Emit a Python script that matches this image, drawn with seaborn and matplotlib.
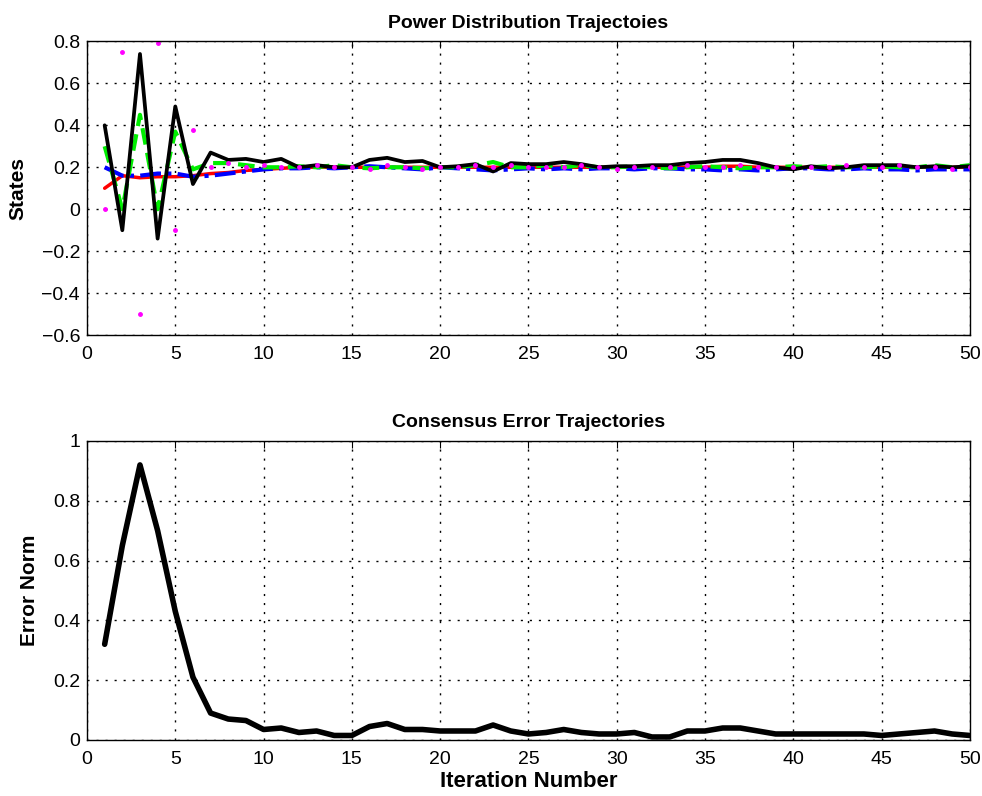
import numpy as np
import pandas as pd
import matplotlib
matplotlib.use("Agg")
import matplotlib.pyplot as plt
import seaborn as sns

iters = list(range(1, 51))

# agent states
state_black = [0.40, -0.10, 0.74, -0.14, 0.49, 0.12, 0.27, 0.235, 0.24, 0.225,
               0.24, 0.20, 0.21, 0.20, 0.20, 0.235, 0.245, 0.225, 0.23, 0.20,
               0.205, 0.215, 0.18, 0.22, 0.215, 0.215, 0.225, 0.215, 0.20, 0.205,
               0.205, 0.21, 0.21, 0.22, 0.225, 0.235, 0.235, 0.22, 0.20, 0.19,
               0.205, 0.195, 0.20, 0.21, 0.21, 0.21, 0.20, 0.205, 0.20, 0.205]
state_green = [0.30, 0.00, 0.45, 0.00, 0.37, 0.19, 0.22, 0.22, 0.21, 0.20,
               0.20, 0.205, 0.20, 0.21, 0.20, 0.195, 0.20, 0.20, 0.195, 0.20,
               0.20, 0.21, 0.225, 0.20, 0.20, 0.21, 0.20, 0.21, 0.20, 0.20,
               0.205, 0.20, 0.195, 0.20, 0.205, 0.20, 0.195, 0.20, 0.20, 0.205,
               0.20, 0.205, 0.20, 0.20, 0.205, 0.20, 0.20, 0.21, 0.20, 0.21]
state_blue = [0.20, 0.16, 0.16, 0.17, 0.17, 0.155, 0.16, 0.17, 0.18, 0.19,
              0.195, 0.195, 0.20, 0.195, 0.20, 0.205, 0.20, 0.195, 0.19, 0.20,
              0.195, 0.19, 0.185, 0.19, 0.195, 0.19, 0.195, 0.19, 0.195, 0.195,
              0.19, 0.195, 0.195, 0.19, 0.19, 0.185, 0.19, 0.185, 0.19, 0.195,
              0.195, 0.19, 0.19, 0.195, 0.19, 0.19, 0.185, 0.19, 0.19, 0.19]
state_red = [0.10, 0.16, 0.15, 0.155, 0.155, 0.16, 0.17, 0.175, 0.185, 0.19,
             0.195, 0.20, 0.20, 0.20, 0.20, 0.20, 0.20, 0.20, 0.20, 0.20,
             0.20, 0.20, 0.20, 0.20, 0.20, 0.20, 0.20, 0.20, 0.20, 0.20,
             0.20, 0.20, 0.20, 0.20, 0.20, 0.205, 0.205, 0.20, 0.20, 0.20,
             0.20, 0.20, 0.20, 0.20, 0.20, 0.20, 0.20, 0.20, 0.20, 0.20]
state_magenta = [0.00, 0.75, -0.50, 0.79, -0.10, 0.38, 0.20, 0.22, 0.20, 0.21,
                 0.20, 0.20, 0.21, 0.20, 0.20, 0.19, 0.21, 0.20, 0.19, 0.20,
                 0.20, 0.21, 0.20, 0.21, 0.20, 0.20, 0.20, 0.21, 0.20, 0.19,
                 0.20, 0.20, 0.20, 0.21, 0.20, 0.20, 0.21, 0.20, 0.20, 0.20,
                 0.20, 0.20, 0.21, 0.20, 0.20, 0.21, 0.20, 0.20, 0.19, 0.20]

# consensus error norm (bottom panel)
error_norm = [0.32, 0.65, 0.92, 0.70, 0.43, 0.21, 0.09, 0.07, 0.065, 0.035,
              0.04, 0.025, 0.03, 0.015, 0.015, 0.045, 0.055, 0.035, 0.035, 0.03,
              0.03, 0.03, 0.05, 0.03, 0.02, 0.025, 0.035, 0.025, 0.02, 0.02,
              0.025, 0.01, 0.01, 0.03, 0.03, 0.04, 0.04, 0.03, 0.02, 0.02,
              0.02, 0.02, 0.02, 0.02, 0.015, 0.02, 0.025, 0.03, 0.02, 0.015]

states_ticks = ['\u22120.6', '\u22120.4', '\u22120.2', '0', '0.2', '0.4', '0.6', '0.8']
error_ticks = ['0', '0.2', '0.4', '0.6', '0.8', '1']

sns.set_style("white")
plt.rcParams['font.family'] = ['Liberation Sans', 'DejaVu Sans']
plt.rcParams['xtick.direction'] = 'in'
plt.rcParams['ytick.direction'] = 'in'
plt.rcParams['text.color'] = 'black'
plt.rcParams['axes.labelcolor'] = 'black'
plt.rcParams['xtick.labelcolor'] = 'black'
plt.rcParams['ytick.labelcolor'] = 'black'

fig = plt.figure(figsize=(9.82, 7.96), dpi=100)
ax1 = fig.add_axes([0.0886, 0.579, 0.899, 0.369])
ax2 = fig.add_axes([0.0886, 0.0704, 0.899, 0.3756])

df = pd.DataFrame({'iter': iters, 'black': state_black, 'green': state_green,
                   'blue': state_blue, 'red': state_red, 'magenta': state_magenta,
                   'err': error_norm})

sns.lineplot(data=df, x='iter', y='red', ax=ax1, color='red', lw=2.5)
sns.lineplot(data=df, x='iter', y='blue', ax=ax1, color='blue', lw=3,
             linestyle=(0, (5, 1.5, 1, 1.5)))
sns.lineplot(data=df, x='iter', y='green', ax=ax1, color='#00ee00', lw=3,
             linestyle=(0, (4, 2)))
sns.lineplot(data=df, x='iter', y='black', ax=ax1, color='black', lw=2.7)
ax1.plot(df['iter'], df['magenta'], linestyle='none', marker='.',
         markersize=5, color='magenta')

sns.lineplot(data=df, x='iter', y='err', ax=ax2, color='black', lw=4)

tfont = dict(fontsize=14, fontweight='bold')
ax1.set_title('Power Distribution Trajectoies', pad=10, **tfont)
ax1.set_xlabel('')
ax1.set_ylabel('States', labelpad=10, fontsize=15, fontweight='bold')
ax1.set_xlim(0, 50)
ax1.set_ylim(-0.6, 0.8)
ax1.set_yticks(np.arange(-0.6, 0.81, 0.2))
ax1.set_yticklabels(states_ticks)

ax2.set_title('Consensus Error Trajectories', pad=10, **tfont)
ax2.set_xlabel('Iteration Number', labelpad=2, fontsize=16, fontweight='bold')
ax2.set_ylabel('Error Norm', labelpad=10, fontsize=15, fontweight='bold')
ax2.set_xlim(0, 50)
ax2.set_ylim(0, 1)
ax2.set_yticks([0, 0.2, 0.4, 0.6, 0.8, 1])
ax2.set_yticklabels(error_ticks)

for ax in (ax1, ax2):
    ax.set_xticks(range(0, 51, 5))
    ax.grid(True, color='black', linestyle=(0, (1.5, 5)), lw=1)
    ax.tick_params(axis='both', labelsize=14, length=5, top=True, right=True,
                   color='black')
    ax.tick_params(axis='x', pad=8)
    ax.tick_params(axis='y', pad=5)
    for s in ax.spines.values():
        s.set_color('black')
        s.set_linewidth(1)

fig.savefig('out.png', dpi=100)
